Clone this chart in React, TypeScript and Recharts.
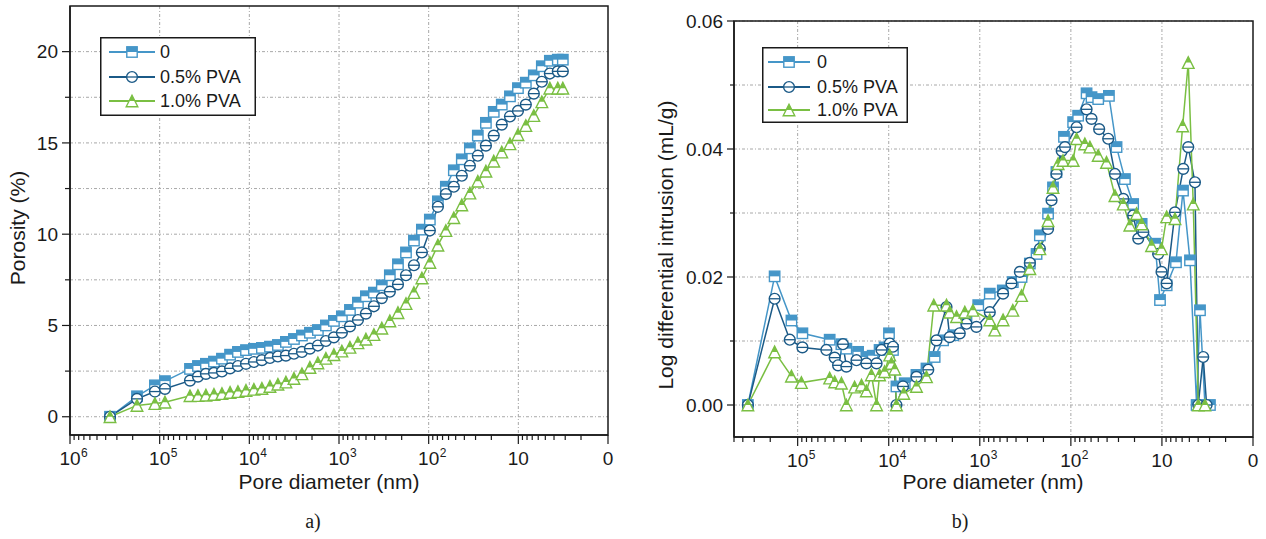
import React from 'react';
import { LineChart, Line, XAxis, YAxis, CartesianGrid, ReferenceArea } from 'recharts';

const FONT = '"Liberation Sans", Arial, sans-serif';
const INK = '#1a1a1a';
const GRID = '#a8a8a8';

const seriesNames = ['0', '0.5% PVA', '1.0% PVA'];
const seriesColors = ['#4596c8', '#1b5a87', '#7abf43'];
const seriesMarkers = ['square', 'circle', 'triangle'];

// a) cumulative porosity, pore diameter in nm
const poreA = [358000, 179000, 113000, 87300, 45900, 37400, 30500, 24800, 20200, 16400, 13400, 10900, 8890, 7240, 5890, 4800, 3910, 3180, 2590, 2110, 1720, 1400, 1140, 929, 755, 615, 501, 408, 333, 271, 220, 179, 146, 119, 97, 78.9, 64.3, 52.4, 42.7, 34.7, 28.3, 23.0, 18.8, 15.3, 12.4, 10.1, 8.25, 6.72, 5.47, 4.45, 3.63, 3.19];
const porosity0 = [0, 1.12, 1.72, 1.95, 2.62, 2.78, 2.9, 3.02, 3.18, 3.4, 3.55, 3.65, 3.72, 3.77, 3.84, 3.93, 4.1, 4.26, 4.45, 4.6, 4.75, 5.0, 5.25, 5.5, 5.85, 6.25, 6.6, 6.8, 7.2, 7.75, 8.35, 9.0, 9.65, 10.25, 10.8, 11.8, 12.6, 13.5, 14.1, 14.7, 15.4, 16.1, 16.7, 17.1, 17.55, 18.0, 18.3, 18.7, 19.2, 19.5, 19.56, 19.56];
const porosity05 = [0, 0.98, 1.38, 1.53, 1.98, 2.2, 2.35, 2.4, 2.48, 2.65, 2.78, 2.9, 3.0, 3.1, 3.22, 3.3, 3.35, 3.45, 3.55, 3.73, 3.9, 4.15, 4.35, 4.6, 4.95, 5.3, 5.65, 6.05, 6.5, 6.85, 7.25, 7.75, 8.3, 9.0, 10.2, 11.5, 12.2, 12.6, 13.2, 13.75, 14.3, 14.85, 15.4, 16.0, 16.45, 16.75, 17.1, 17.7, 18.35, 18.8, 18.92, 18.92];
const porosity10 = [0, 0.62, 0.72, 0.8, 1.15, 1.16, 1.18, 1.22, 1.27, 1.33, 1.38, 1.44, 1.5, 1.55, 1.66, 1.78, 1.9, 2.1, 2.35, 2.7, 2.95, 3.2, 3.4, 3.6, 3.8, 4.05, 4.25, 4.5, 4.85, 5.25, 5.7, 6.2, 6.8, 7.6, 8.45, 9.4, 10.2, 10.9, 11.6, 12.25, 12.9, 13.45, 14.0, 14.5, 14.95, 15.45, 15.95, 16.5, 17.25, 18.0, 18.0, 18.0];

// b) log differential intrusion, mL/g
const poreB0 = [352000, 179000, 117000, 88700, 44500, 33100, 29200, 21700, 17600, 15000, 12600, 11100, 9930, 8980, 8230, 6670, 4960, 3850, 3130, 2530, 1960, 1400, 1040, 777, 559, 434, 348, 282, 238, 219, 178, 157, 144, 119, 94.4, 83.2, 67.2, 59.3, 50.1, 38.2, 31.5, 25.5, 20.7, 16.7, 11.9, 10.5, 8.87, 7.01, 5.87, 4.92, 4.16, 3.82, 3.37, 2.97];
const intrusion0 = [0, 0.0201, 0.0132, 0.0112, 0.0102, 0.0095, 0.0088, 0.0083, 0.0075, 0.0077, 0.0086, 0.009, 0.0112, 0.0086, 0.0029, 0.0034, 0.0047, 0.0057, 0.0075, 0.0101, 0.0109, 0.013, 0.0156, 0.0174, 0.0179, 0.0192, 0.02, 0.0221, 0.0236, 0.0265, 0.0299, 0.034, 0.0364, 0.0419, 0.0442, 0.0452, 0.0487, 0.0481, 0.0478, 0.0483, 0.0403, 0.0353, 0.0314, 0.0283, 0.0252, 0.0164, 0.0187, 0.0223, 0.0335, 0.0226, 0, 0.0148, 0, 0];
const poreB05 = [352000, 179000, 122000, 88700, 48400, 39200, 36000, 31800, 29200, 22600, 17600, 13600, 12000, 9750, 8980, 8230, 6970, 4960, 3680, 2990, 2320, 2140, 1660, 1400, 1090, 777, 555, 449, 363, 282, 219, 178, 163, 144, 126, 116, 86.5, 67.2, 59.3, 48.9, 38.9, 32.8, 26.6, 20.7, 18.2, 16.0, 11.0, 10.1, 8.87, 7.19, 5.83, 5.14, 4.34, 3.99, 3.52, 3.23];
const intrusion05 = [0, 0.0166, 0.0102, 0.009, 0.0086, 0.0074, 0.0062, 0.0095, 0.006, 0.007, 0.0065, 0.0065, 0.0086, 0.0096, 0.0091, 0, 0.0029, 0.0044, 0.0055, 0.0101, 0.0153, 0.0106, 0.0112, 0.0127, 0.0122, 0.0145, 0.0174, 0.019, 0.0208, 0.0222, 0.0244, 0.0275, 0.032, 0.0361, 0.0397, 0.0403, 0.0434, 0.0462, 0.0447, 0.0431, 0.0416, 0.0361, 0.0322, 0.0296, 0.026, 0.027, 0.0236, 0.0208, 0.019, 0.0301, 0.0369, 0.0403, 0.0348, 0, 0.0075, 0];
const poreB10 = [352000, 179000, 117000, 91000, 44500, 39200, 33100, 29200, 23700, 19900, 17600, 15500, 13600, 12600, 11100, 9750, 9330, 8590, 8230, 6840, 4960, 3850, 3200, 2320, 2140, 1800, 1460, 1190, 777, 684, 555, 434, 348, 282, 219, 178, 157, 138, 122, 94.4, 86.5, 70.2, 61.8, 50.1, 40.6, 32.8, 26.6, 22.5, 19.0, 16.7, 13.0, 10.1, 8.87, 7.19, 5.92, 5.14, 4.53, 3.99, 3.37];
const intrusion10 = [0, 0.0083, 0.0045, 0.0035, 0.0042, 0.0036, 0.0034, 0, 0.0028, 0.0031, 0.0022, 0.0047, 0, 0.0047, 0.0052, 0.0078, 0.0065, 0.0056, 0, 0.0018, 0.0029, 0.0044, 0.0156, 0.0156, 0.0145, 0.0138, 0.0145, 0.0148, 0.0133, 0.0117, 0.0133, 0.0148, 0.0171, 0.0213, 0.0244, 0.0288, 0.034, 0.0377, 0.0382, 0.0382, 0.0416, 0.0408, 0.0403, 0.039, 0.0379, 0.0327, 0.0314, 0.0281, 0.0299, 0.0283, 0.0249, 0.0244, 0.0294, 0.0291, 0.0436, 0.0535, 0.0314, 0, 0];

// axis ticks
const decadeTicks = [1e6, 1e5, 1e4, 1e3, 100, 10, 1];
const decadeBase = ['10', '10', '10', '10', '10', '10', '0'];
const decadeExp = ['6', '5', '4', '3', '2', '', ''];
const minorSteps = [2, 3, 4, 5, 6, 7, 8, 9];
const porosityMajor = [0, 5, 10, 15, 20];
const porosityMinor = [2.5, 7.5, 12.5, 17.5];
const intrusionMajor = [0, 0.02, 0.04, 0.06];
const intrusionMinor = [0.01, 0.03, 0.05];
const intrusionLabels = ['0.00', '0.02', '0.04', '0.06'];

const toRows = (xs: number[], ys: number[]) => xs.map((d, i) => ({ d, v: ys[i] }));

const logTicks = (max: number) => {
  const minor: number[] = [];
  decadeTicks.slice(1).forEach((dec) => minorSteps.forEach((k) => { if (k * dec <= max) minor.push(k * dec); }));
  return [...decadeTicks.filter((t) => t <= max), ...minor];
};

const Marker = ({ kind, cx, cy, color }: any) => {
  if (cx == null || cy == null || isNaN(cx) || isNaN(cy)) return null;
  if (kind === 'square') {
    const s = 5.2;
    return (
      <g>
        <rect x={cx - s} y={cy - s} width={2 * s} height={2 * s} fill="#fff" stroke={color} strokeWidth={1.4} />
        <rect x={cx - s} y={cy - s} width={2 * s} height={s} fill={color} />
      </g>
    );
  }
  if (kind === 'circle') {
    const r = 5.4;
    return (
      <g>
        <circle cx={cx} cy={cy} r={r} fill="#fff" stroke={color} strokeWidth={1.4} />
        <line x1={cx - r} x2={cx + r} y1={cy} y2={cy} stroke={color} strokeWidth={1.3} />
      </g>
    );
  }
  const s = 5.8;
  return (
    <g>
      <polygon points={`${cx},${cy - s} ${cx - s},${cy + s} ${cx + s},${cy + s}`} fill="#fff" stroke={color} strokeWidth={1.4} />
      <polygon points={`${cx},${cy - s} ${cx - s / 2},${cy} ${cx + s / 2},${cy}`} fill={color} />
    </g>
  );
};

const XTick = ({ x, y, payload }: any) => {
  const i = decadeTicks.indexOf(payload.value);
  const major = i >= 0;
  return (
    <g>
      <line x1={x} x2={x} y1={y} y2={y + (major ? 9 : 5)} stroke={INK} strokeWidth={1.2} />
      {major && (
        <text x={x} y={y + 30} textAnchor="middle" fontSize={19} fill={INK} fontFamily={FONT}>{decadeBase[i]}</text>
      )}
      {major && decadeExp[i] && (
        <text x={x + 11} y={y + 22} fontSize={12} fill={INK} fontFamily={FONT}>{decadeExp[i]}</text>
      )}
    </g>
  );
};

const makeYTick = (major: number[], labels: string[], majLen: number, minLen: number) => ({ x, y, payload }: any) => {
  const i = major.indexOf(payload.value);
  return (
    <g>
      <line x1={x} x2={x - (i >= 0 ? majLen : minLen)} y1={y} y2={y} stroke={INK} strokeWidth={1.2} />
      {i >= 0 && (
        <text x={x - majLen - 4} y={y} dy="0.35em" textAnchor="end" fontSize={19} fill={INK} fontFamily={FONT}>{labels[i]}</text>
      )}
    </g>
  );
};

const PorosityTick = makeYTick(porosityMajor, porosityMajor.map(String), 8, 5);
const IntrusionTick = makeYTick(intrusionMajor, intrusionLabels, 7, 4);

const Panel = ({ left, width, marginTop, marginRight, yWidth, xHeight, xMax, yDomain, yTicks, yTick, series }: any) => {
  const xDomain = [1, xMax];
  return (
    <div style={{ position: 'absolute', left, top: 0 }}>
      <LineChart width={width} height={500} margin={{ top: marginTop, right: marginRight, left: 0, bottom: 5 }}>
        <CartesianGrid
          stroke={GRID}
          strokeDasharray="3 2 1 2"
          horizontalValues={yTicks}
          verticalValues={[1e5, 1e4, 1e3, 100, 10]}
        />
        <XAxis
          dataKey="d"
          type="number"
          scale="log"
          domain={xDomain}
          allowDataOverflow
          reversed
          ticks={logTicks(xMax)}
          interval={0}
          height={xHeight}
          tickSize={0}
          tickMargin={0}
          tickLine={false}
          axisLine={{ stroke: INK, strokeWidth: 1.5 }}
          tick={(p: any) => <XTick {...p} />}
        />
        <YAxis
          type="number"
          domain={yDomain}
          allowDataOverflow
          ticks={yTicks}
          interval={0}
          width={yWidth}
          tickSize={0}
          tickMargin={0}
          tickLine={false}
          axisLine={{ stroke: INK, strokeWidth: 1.5 }}
          tick={(p: any) => yTick(p)}
        />
        <ReferenceArea
          x1={xDomain[0]}
          x2={xDomain[1]}
          y1={yDomain[0]}
          y2={yDomain[1]}
          fill="none"
          stroke={INK}
          strokeWidth={1.5}
          ifOverflow="visible"
        />
        {series.map((rows: any[], k: number) => (
          <Line
            key={seriesNames[k]}
            data={rows}
            dataKey="v"
            name={seriesNames[k]}
            stroke={seriesColors[k]}
            strokeWidth={1.5}
            isAnimationActive={false}
            dot={(p: any) => (
              <Marker key={`m${k}-${p.index}`} kind={seriesMarkers[k]} cx={p.cx} cy={p.cy} color={seriesColors[k]} />
            )}
          />
        ))}
      </LineChart>
    </div>
  );
};

const LegendBox = ({ left, top, width, height, rowY, lineX1, lineX2, textX }: any) => (
  <svg
    style={{ position: 'absolute', left, top, overflow: 'visible' }}
    width={width}
    height={height}
  >
    <rect x={0.75} y={0.75} width={width - 1.5} height={height - 1.5} fill="#fff" stroke={INK} strokeWidth={1.5} />
    {seriesNames.map((name, k) => (
      <g key={name}>
        <line x1={lineX1} x2={lineX2} y1={rowY[k]} y2={rowY[k]} stroke={seriesColors[k]} strokeWidth={1.8} />
        <Marker kind={seriesMarkers[k]} cx={(lineX1 + lineX2) / 2} cy={rowY[k]} color={seriesColors[k]} />
        <text x={textX} y={rowY[k]} dy="0.35em" fontSize={18} fill={INK} fontFamily={FONT}>{name}</text>
      </g>
    ))}
  </svg>
);

export default function App() {
  const seriesA = [toRows(poreA, porosity0), toRows(poreA, porosity05), toRows(poreA, porosity10)];
  const seriesB = [toRows(poreB0, intrusion0), toRows(poreB05, intrusion05), toRows(poreB10, intrusion10)];
  const titleStyle = { fontSize: 21, fill: INK, fontFamily: FONT } as any;
  return (
    <div style={{ position: 'absolute', left: 0, top: 0, width: 1266, height: 539, background: '#fff', overflow: 'hidden' }}>
      <Panel
        left={0}
        width={620}
        marginTop={6}
        marginRight={12}
        yWidth={70}
        xHeight={60}
        xMax={1e6}
        yDomain={[-1, 22.5]}
        yTicks={[...porosityMajor, ...porosityMinor].sort((a, b) => a - b)}
        yTick={PorosityTick}
        series={seriesA}
      />
      <Panel
        left={640}
        width={626}
        marginTop={21}
        marginRight={13}
        yWidth={94}
        xHeight={58}
        xMax={5e5}
        yDomain={[-0.005, 0.06]}
        yTicks={[...intrusionMajor, ...intrusionMinor].sort((a, b) => a - b)}
        yTick={IntrusionTick}
        series={seriesB}
      />
      <LegendBox left={100} top={37} width={156} height={79} rowY={[15, 40, 64]} lineX1={9} lineX2={55} textX={60} />
      <LegendBox left={762} top={47} width={146} height={76} rowY={[15, 40, 63]} lineX1={6} lineX2={48} textX={55} />
      <svg style={{ position: 'absolute', left: 0, top: 0, pointerEvents: 'none' }} width={1266} height={539}>
        <text x={25} y={228} transform="rotate(-90 25 228)" textAnchor="middle" style={titleStyle}>Porosity (%)</text>
        <text x={329} y={489} textAnchor="middle" style={titleStyle}>Pore diameter (nm)</text>
        <text x={673} y={245} transform="rotate(-90 673 245)" textAnchor="middle" style={titleStyle}>Log differential intrusion (mL/g)</text>
        <text x={993} y={489} textAnchor="middle" style={titleStyle}>Pore diameter (nm)</text>
        <text x={313} y={528} textAnchor="middle" fontSize={20} fill={INK} fontFamily={'"Liberation Serif", "Times New Roman", serif'}>a)</text>
        <text x={960} y={528} textAnchor="middle" fontSize={20} fill={INK} fontFamily={'"Liberation Serif", "Times New Roman", serif'}>b)</text>
      </svg>
    </div>
  );
}
